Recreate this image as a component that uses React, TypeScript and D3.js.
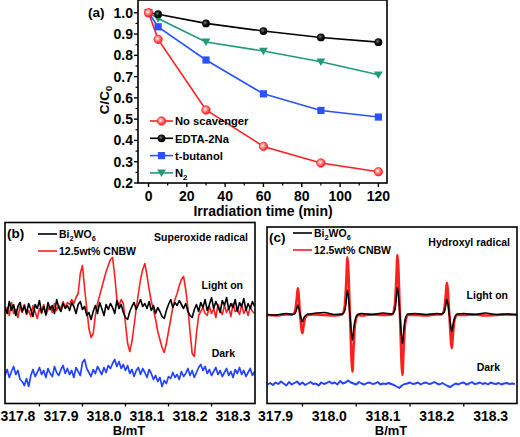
import React from "react";
import * as d3 from "d3";

// ---------- Panel (a) data ----------
const TIME = [0, 5, 30, 60, 90, 120];
const NO_SCAV = [1.0, 0.875, 0.543, 0.372, 0.294, 0.253];
const EDTA = [1.0, 0.993, 0.95, 0.914, 0.884, 0.862];
const TBUT = [1.0, 0.934, 0.778, 0.619, 0.541, 0.51];
const N2 = [1.0, 0.973, 0.863, 0.82, 0.77, 0.709];
const A_XTICKS = [0, 20, 40, 60, 80, 100, 120];
const A_YTICKS = [0.2, 0.3, 0.4, 0.5, 0.6, 0.7, 0.8, 0.9, 1.0];

// ---------- Panel (b) data: field start / step, intensities (a.u.) ----------
const B_START = 317.77;
const B_STEP = 0.005;
const B_RED = [
  92, 96, 88, 101, 90, 94, 86, 97, 91, 99, 89,
  93, 87, 98, 92, 85, 95, 90, 99, 88, 94,
  97, 91, 100, 93, 98, 95, 102, 96, 101, 99,
  104, 100, 106, 110,
  130, 138,
  115, 95, 75, 66, 70,
  88, 100, 108, 116, 124, 132, 138, 144, 146,
  128, 104, 98, 104, 100, 80, 60, 52,
  62, 78, 95, 110, 124, 134, 140,
  128, 114, 102, 94, 84, 72, 64, 56, 51,
  60, 72, 84, 96, 104, 110, 118, 124, 127,
  114, 96, 72, 50, 47,
  70, 88, 92, 96, 90,
  88, 97, 90, 95, 86, 99, 93, 89, 98, 91, 96, 87, 100, 92, 94, 89, 99, 90, 95, 88, 97, 92, 90,
];
const B_BLACK = [
  96, 90, 102, 93, 99, 88, 97, 101, 92, 98,
  90, 100, 94, 87, 99, 95, 103, 91, 97, 89,
  101, 94, 98, 90, 104, 96, 92, 100, 95, 98,
  93, 101, 97, 90, 99, 102, 94, 97, 88, 91,
  84, 92, 98, 90, 101, 95, 88, 99, 94, 100,
  96, 90, 103, 95, 99, 91, 86, 84, 92, 97,
  101, 94, 99, 104, 97, 100, 95, 102, 93, 98,
  90, 96, 92, 87, 85, 93, 99, 104, 96, 101,
  98, 103, 99, 95, 100, 92, 88, 86, 94, 99,
  92, 101, 96, 104, 93, 99, 106, 95, 102, 97,
  91, 103, 98, 106, 94, 100, 96, 104, 92, 101,
  97, 105, 93, 100, 95, 102, 97,
];
const B_BLUE = [
  28, 34, 26, 32, 37, 29, 33, 24, 22, 18,
  25, 17, 28, 34, 27, 31, 36, 29, 33, 26,
  35, 30, 27, 37, 31, 28, 34, 38, 30, 35,
  29, 33, 26, 36, 32, 28, 41, 44, 35, 31,
  27, 34, 30, 37, 33, 29, 36, 31, 38, 35,
  40, 44, 37, 42, 35, 39, 33, 38, 30, 34,
  27, 33, 36, 29, 35, 31, 26, 34, 30, 24,
  28, 22, 26, 17, 23, 20, 27, 25, 31, 26,
  29, 24, 32, 27, 30, 35, 28, 33, 26, 31,
  36, 39, 33, 37, 30, 34, 28, 32, 36, 29,
  33, 27, 31, 35, 28, 32, 26, 34, 30, 36,
  29, 33, 27, 31, 35, 28, 32,
];

// ---------- Panel (c) data ----------
const C_FIELD = [
  317.884, 317.9, 317.92,
  317.9313, 317.9363, 317.9393, 317.9413, 317.9456, 317.9499, 317.9519, 317.9549, 317.9599,
  317.97, 317.99, 318.01,
  318.0236, 318.0286, 318.0316, 318.0336, 318.0383, 318.0429, 318.0449, 318.0479, 318.0529,
  318.06, 318.08, 318.1,
  318.1166, 318.1216, 318.1246, 318.1266, 318.1313, 318.1359, 318.1379, 318.1409, 318.1459,
  318.16, 318.18, 318.2,
  318.2085, 318.2135, 318.2165, 318.2185, 318.2232, 318.2278, 318.2298, 318.2328, 318.2378,
  318.25, 318.27, 318.29, 318.31, 318.33, 318.349,
];
const C_RED = [
  88.5, 88, 89,
  89, 92.5, 104.5, 115.2, 88.5, 70.2, 77.5, 85.8, 88.5,
  89, 88.5, 88,
  89, 97, 123, 146.2, 88.5, 31.8, 54.5, 80, 88.5,
  88, 89, 88.5,
  89, 97.5, 124.5, 148.5, 88.5, 28.5, 52.5, 79.5, 88.5,
  88.5, 88, 89,
  89, 93.5, 108, 120.8, 88.5, 55.2, 68.5, 83.5, 88.5,
  88.5, 89, 88, 88.5, 89, 88.5,
];
const C_BLACK = [
  89, 88.5, 90,
  89, 90, 94.5, 98.5, 89, 81.8, 85, 87.5, 89.5,
  90, 91, 89,
  89.5, 92.5, 103, 113.5, 88.5, 63.5, 73.5, 83, 89,
  90, 89, 90.5,
  89.5, 93, 105, 116.2, 88.5, 59.5, 71, 84, 89.5,
  90, 89, 90,
  89.5, 91, 98, 104.2, 88.5, 71.8, 78.5, 85.5, 89.5,
  90, 89, 90.5, 89, 89.5, 89,
];
const C_BLUE_START = 317.885;
const C_BLUE_STEP = 0.005;
const C_BLUE = [
  19, 20.5, 18.5, 21, 19.5, 22, 20, 18, 21.5, 19,
  20.5, 22, 19, 21, 18.5, 20, 21.5, 19.5, 20, 18,
  21, 19.5, 20.5, 22, 20, 21, 19, 22.5, 20, 21,
  23, 21, 20, 19, 21.5, 20, 19, 20.5, 21, 19.5,
  20, 21.5, 19, 20, 19.5, 20.5, 19.5, 18.5, 17, 15.5,
  18, 19.5, 20, 21, 19.5, 20, 21, 19, 20.5, 21,
  19.5, 20, 21.5, 20, 19, 20.5, 19, 17.5, 16.5, 18.5,
  20, 19, 20.5, 21, 19, 20, 21.5, 19.5, 20, 21,
  19.5, 20.5, 19, 21, 20, 19.5, 20.5, 19, 20, 20.5,
  19.5, 20, 19.5,
];
const BC_XTICKS_B = [317.8, 317.9, 318.0, 318.1, 318.2, 318.3];
const BC_XTICKS_C = [317.9, 318.0, 318.1, 318.2, 318.3];

const FONT = "'Liberation Sans', Arial, Helvetica, sans-serif";
const RED = "#ff1f1f";
const BLACK = "#000000";
const BLUE_A = "#2a52ff";
const GREEN = "#1f9a7a";
const BLUE_S = "#2244ff";

function Sub({ children }: { children: React.ReactNode }) {
  return (
    <tspan dy={3} fontSize="0.7em">
      {children}
    </tspan>
  );
}

function Marker({ kind, x, y }: { kind: string; x: number; y: number }) {
  if (kind === "red")
    return <circle cx={x} cy={y} r={4.2} fill="url(#gRed)" stroke={RED} strokeWidth={0.8} />;
  if (kind === "black") return <circle cx={x} cy={y} r={3.9} fill="url(#gBlack)" />;
  if (kind === "blue")
    return <rect x={x - 3.6} y={y - 3.6} width={7.2} height={7.2} fill={BLUE_A} />;
  const s = 4.4;
  return (
    <path
      d={`M${x - s},${y - s * 0.75}L${x + s},${y - s * 0.75}L${x},${y + s * 0.95}Z`}
      fill={GREEN}
    />
  );
}

function PanelA() {
  const left = 138, right = 387, top = 0, bottom = 183;
  const x = d3.scaleLinear().domain([-5.5, 124.5]).range([left, right]);
  const y = d3.scaleLinear().domain([0.2, 1.06]).range([bottom, top]);
  const series = [
    { name: "No scavenger", vals: NO_SCAV, color: RED, kind: "red" },
    { name: "EDTA-2Na", vals: EDTA, color: BLACK, kind: "black" },
    { name: "t-butanol", vals: TBUT, color: BLUE_A, kind: "blue" },
    { name: "N2", vals: N2, color: GREEN, kind: "green" },
  ];
  const line = d3
    .line<number>()
    .x((_, i) => x(TIME[i]))
    .y((d) => y(d));
  const minorX = d3.range(10, 121, 20);
  const minorY = d3.range(0.25, 1.0, 0.1);
  return (
    <g fontFamily={FONT} fontWeight="bold">
      {series.map((s) => (
        <path key={s.name} d={line(s.vals) || ""} fill="none" stroke={s.color} strokeWidth={1.6} />
      ))}
      {series
        .slice()
        .reverse()
        .map((s) => (
          <g key={s.name + "m"}>
            {s.vals.map((v, i) => (
              <Marker key={i} kind={s.kind} x={x(TIME[i])} y={y(v)} />
            ))}
          </g>
        ))}
      <rect x={left} y={top} width={right - left} height={bottom - top} fill="none" stroke="#000" strokeWidth={1.6} />
      {A_XTICKS.map((t) => (
        <g key={t}>
          <line x1={x(t)} x2={x(t)} y1={bottom} y2={bottom + 4} stroke="#000" strokeWidth={1.4} />
          <text x={x(t)} y={200.5} textAnchor="middle" fontSize={14}>
            {t}
          </text>
        </g>
      ))}
      {minorX.map((t) => (
        <line key={t} x1={x(t)} x2={x(t)} y1={bottom} y2={bottom + 2.5} stroke="#000" strokeWidth={1.2} />
      ))}
      {A_YTICKS.map((t) => (
        <g key={t}>
          <line x1={left} x2={left - 4} y1={y(t)} y2={y(t)} stroke="#000" strokeWidth={1.4} />
          <text x={133} y={y(t) + 5} textAnchor="end" fontSize={14}>
            {t.toFixed(1)}
          </text>
        </g>
      ))}
      {minorY.map((t) => (
        <line key={t} x1={left} x2={left - 2.5} y1={y(t)} y2={y(t)} stroke="#000" strokeWidth={1.2} />
      ))}
      <text x={263} y={215.5} textAnchor="middle" fontSize={14}>
        Irradiation time (min)
      </text>
      <text transform="translate(109,100) rotate(-90)" textAnchor="middle" fontSize={13.5}>
        C/C<Sub>0</Sub>
      </text>
      <text x={88} y={17} fontSize={13.5}>
        (a)
      </text>
      {series.map((s, i) => {
        const ly = 121 + i * 17.3;
        return (
          <g key={s.name + "l"}>
            <line x1={150} x2={173} y1={ly} y2={ly} stroke={s.color} strokeWidth={1.6} />
            <Marker kind={s.kind} x={161.5} y={ly} />
            <text x={175} y={ly + 4.3} fontSize={11.2}>
              {s.name === "N2" ? (
                <>
                  N<Sub>2</Sub>
                </>
              ) : (
                s.name
              )}
            </text>
          </g>
        );
      })}
    </g>
  );
}

function EprFrame({
  left, right, top, bottom, x, ticks, label, title,
}: {
  left: number; right: number; top: number; bottom: number;
  x: d3.ScaleLinear<number, number>; ticks: number[]; label: string; title: string;
}) {
  const minor = ticks.map((t) => t + 0.05).filter((t) => x(t) < right - 1);
  return (
    <g fontFamily={FONT} fontWeight="bold">
      <rect x={left} y={top} width={right - left} height={bottom - top} fill="none" stroke="#000" strokeWidth={1.6} />
      {minor.map((t) => (
        <line key={t} x1={x(t)} x2={x(t)} y1={bottom} y2={bottom + 3} stroke="#000" strokeWidth={1.3} />
      ))}
      {ticks.map((t) => (
        <text key={t} x={x(t)} y={421} textAnchor="middle" fontSize={14}>
          {t.toFixed(1)}
        </text>
      ))}
      <text x={(left + right) / 2 - 1} y={435} textAnchor="middle" fontSize={13}>
        B/mT
      </text>
      <text x={left + 2} y={top + 15} fontSize={13.5}>
        {label}
      </text>
      <text x={right - 7} y={top + 18.5} textAnchor="end" fontSize={10.5}>
        {title}
      </text>
    </g>
  );
}

function Legend({ x0, y0 }: { x0: number; y0: number }) {
  return (
    <g fontFamily={FONT} fontWeight="bold" fontSize={10.5}>
      <line x1={x0} x2={x0 + 19} y1={y0} y2={y0} stroke={BLACK} strokeWidth={1.6} />
      <text x={x0 + 21} y={y0 + 4}>
        Bi<Sub>2</Sub>
        <tspan dy={-3}>WO</tspan>
        <Sub>6</Sub>
      </text>
      <line x1={x0} x2={x0 + 19} y1={y0 + 17} y2={y0 + 17} stroke={RED} strokeWidth={1.6} />
      <text x={x0 + 21} y={y0 + 21}>
        12.5wt% CNBW
      </text>
    </g>
  );
}

function PanelB() {
  const left = 5, right = 255, top = 222.5, bottom = 403.5;
  const x = d3.scaleLinear().domain([317.77, 318.351]).range([left, right]);
  const y = d3.scaleLinear().domain([0, 181]).range([bottom, top]);
  const line = d3
    .line<number>()
    .x((_, i) => x(B_START + B_STEP * i))
    .y((d) => y(d));
  return (
    <g>
      <defs>
        <clipPath id="clipB">
          <rect x={left} y={top} width={right - left} height={bottom - top} />
        </clipPath>
      </defs>
      <g clipPath="url(#clipB)" fill="none" strokeLinejoin="round">
        <path d={line(B_BLUE) || ""} stroke={BLUE_S} strokeWidth={1.7} />
        <path d={line(B_RED) || ""} stroke={RED} strokeWidth={1.6} />
        <path d={line(B_BLACK) || ""} stroke={BLACK} strokeWidth={1.6} />
      </g>
      <EprFrame left={left} right={right} top={top} bottom={bottom} x={x} ticks={BC_XTICKS_B} label="(b)" title="Superoxide radical" />
      <Legend x0={38} y0={234} />
      <g fontFamily={FONT} fontWeight="bold" fontSize={10.5}>
        <text x={243} y={289} textAnchor="end">Light on</text>
        <text x={235} y={357} textAnchor="end">Dark</text>
      </g>
    </g>
  );
}

function PanelC() {
  const left = 267, right = 517, top = 227, bottom = 403.5;
  const x = d3.scaleLinear().domain([317.884, 318.349]).range([left, right]);
  const y = d3.scaleLinear().domain([0, 176.5]).range([bottom, top]);
  const line = d3
    .line<number>()
    .x((_, i) => x(C_FIELD[i]))
    .y((d) => y(d))
    .curve(d3.curveMonotoneX);
  const lineBlue = d3
    .line<number>()
    .x((_, i) => x(C_BLUE_START + C_BLUE_STEP * i))
    .y((d) => y(d));
  return (
    <g>
      <defs>
        <clipPath id="clipC">
          <rect x={left} y={top} width={right - left} height={bottom - top} />
        </clipPath>
      </defs>
      <g clipPath="url(#clipC)" fill="none" strokeLinejoin="round">
        <path d={lineBlue(C_BLUE) || ""} stroke={BLUE_S} strokeWidth={2} />
        <path d={line(C_RED) || ""} stroke={RED} strokeWidth={2.6} />
        <path d={line(C_BLACK) || ""} stroke={BLACK} strokeWidth={1.5} />
      </g>
      <EprFrame left={left} right={right} top={top} bottom={bottom} x={x} ticks={BC_XTICKS_C} label="(c)" title="Hydroxyl radical" />
      <Legend x0={293} y0={233} />
      <g fontFamily={FONT} fontWeight="bold" fontSize={10.5}>
        <text x={508} y={299} textAnchor="end">Light on</text>
        <text x={500} y={371} textAnchor="end">Dark</text>
      </g>
    </g>
  );
}

export default function App() {
  return (
    <svg width={520} height={437} style={{ position: "absolute", left: 0, top: 0, background: "#fff" }}>
      <defs>
        <radialGradient id="gRed" cx="0.4" cy="0.4" r="0.6">
          <stop offset="0" stopColor="#ffffff" />
          <stop offset="0.35" stopColor="#ff9a9a" />
          <stop offset="1" stopColor={RED} />
        </radialGradient>
        <radialGradient id="gBlack" cx="0.4" cy="0.4" r="0.6">
          <stop offset="0" stopColor="#777" />
          <stop offset="0.5" stopColor="#111" />
          <stop offset="1" stopColor="#000" />
        </radialGradient>
      </defs>
      <rect width={520} height={437} fill="#fff" />
      <PanelA />
      <PanelB />
      <PanelC />
    </svg>
  );
}
